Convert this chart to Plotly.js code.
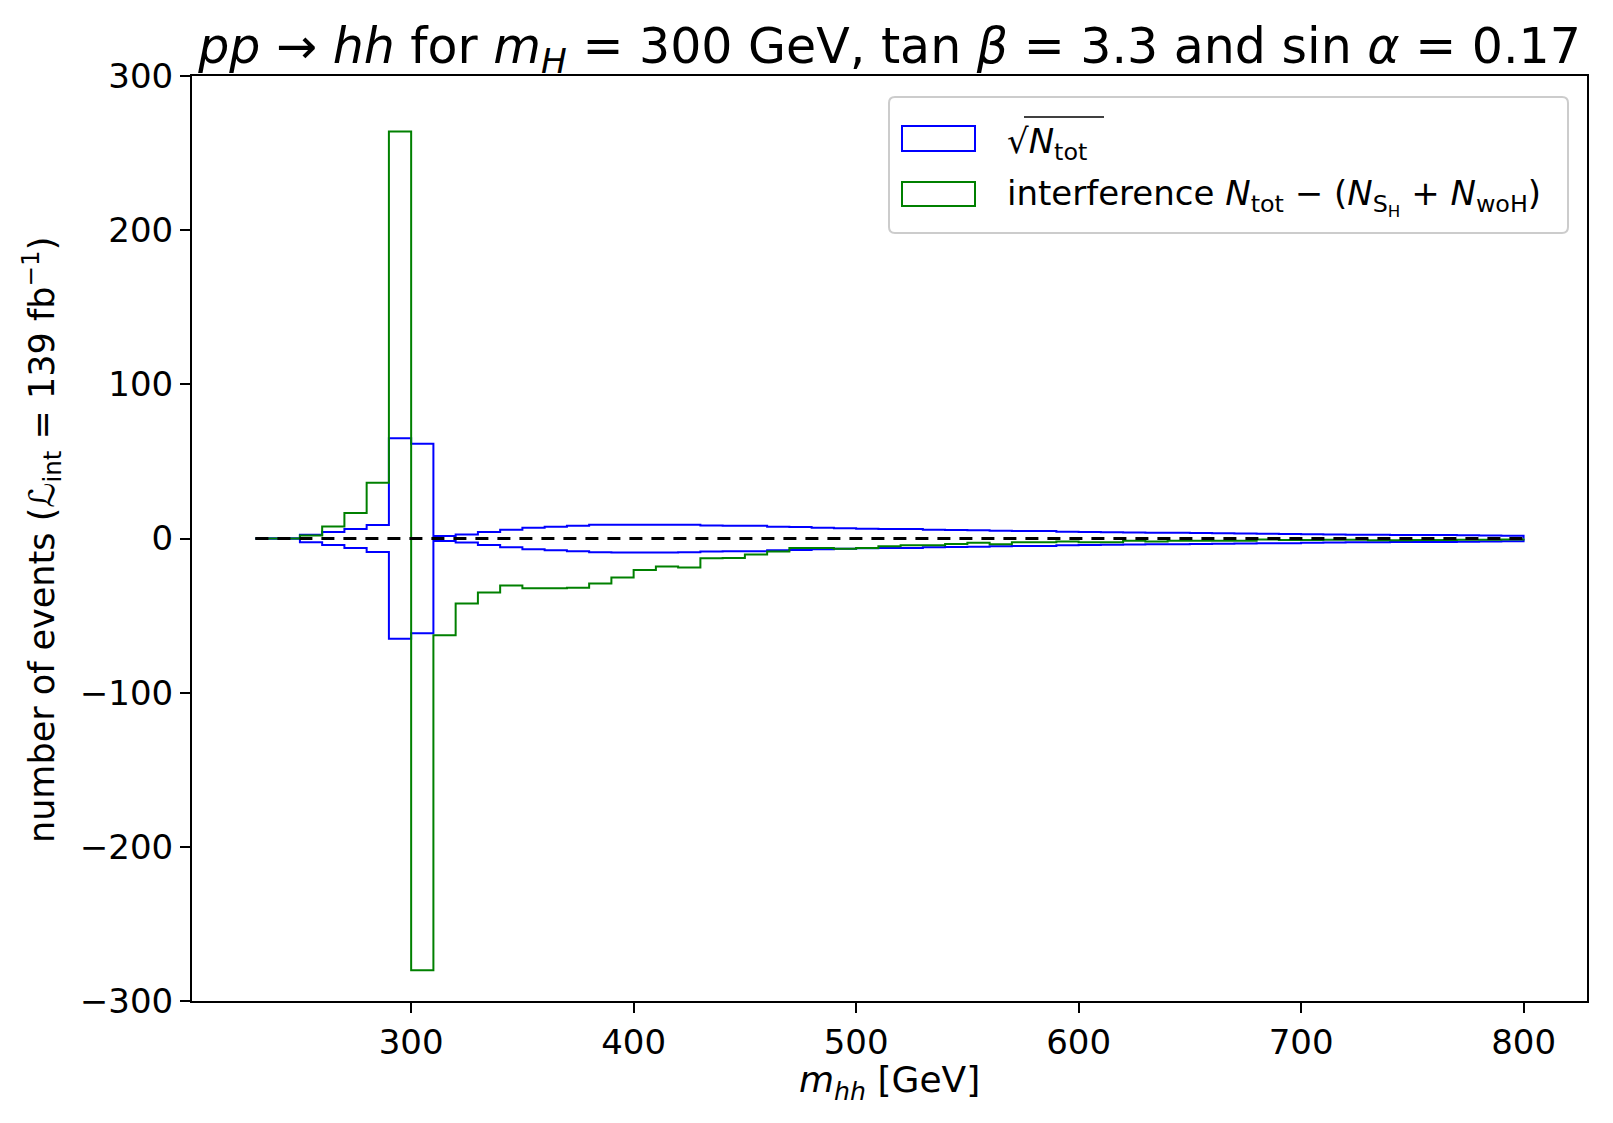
<!DOCTYPE html>
<html>
<head>
<meta charset="utf-8">
<script src="https://cdn.plot.ly/plotly-3.0.1.min.js"></script>
<style>html,body{margin:0;padding:0;background:#fff;}</style>
</head>
<body>
<div id="chart" style="width:1613px;height:1123px;"></div>
<script>
// Bin edges of m_hh [GeV]
const binEdges = [230,240,250,260,270,280,290,300,310,320,330,340,350,360,370,380,390,400,410,420,
  430,440,450,460,470,480,490,500,510,520,530,540,550,560,570,580,590,600,610,620,
  630,640,650,660,670,680,690,700,710,720,730,740,750,760,770,780,790,800];

// sqrt(N_tot) per bin
const sqrtNtot = [0,0,2.5,4.2,6.2,8.8,65.1,61.4,1.6,2.6,4.2,5.6,6.9,7.7,8.3,8.9,9.0,9.0,9.0,8.9,
  8.4,8.3,8.2,7.7,7.5,6.9,6.7,6.3,6.2,6.1,5.6,5.5,5.4,5.0,4.9,4.8,4.4,4.2,4.1,3.9,
  3.8,3.7,3.6,3.4,3.2,3.1,3.0,2.8,2.6,2.5,2.4,2.3,2.3,2.2,2.1,1.9,1.8];

// interference N_tot - (N_SH + N_woH) per bin
const interference = [0,0,2.0,7.8,16.6,36.1,264,-280,-62.8,-42.2,-35.0,-30.5,-32.2,-32.2,-32.0,-29.2,-25.3,-20.5,-18.2,-18.8,
  -12.8,-12.6,-10.4,-8.5,-6.1,-6.1,-6.7,-6.1,-5.0,-4.3,-4.3,-3.5,-2.8,-3.7,-2.4,-2.4,-1.9,-2.4,-2.4,-1.5,
  -2.0,-1.4,-1.4,-1.4,-1.4,-0.6,-1.0,-1.0,-0.8,-0.8,-1.2,-1.2,-1.0,-1.0,-0.8,-0.8,-0.6];

const xTicks = [300,400,500,600,700,800];
const yTicks = [-300,-200,-100,0,100,200,300];

// build a matplotlib-like "step" histogram outline (hv shape)
function stepOutline(edges, vals, sign) {
  const x = [edges[0]], y = [0];
  for (let i = 0; i < vals.length; i++) { x.push(edges[i]); y.push(sign * vals[i]); }
  x.push(edges[edges.length - 1]); y.push(sign * vals[vals.length - 1]);
  x.push(edges[edges.length - 1]); y.push(0);
  return {x, y};
}

const bluePos = stepOutline(binEdges, sqrtNtot, 1);
const blueNeg = stepOutline(binEdges, sqrtNtot, -1);
const greenS = stepOutline(binEdges, interference, 1);

const traces = [
  {x: bluePos.x, y: bluePos.y, mode: 'lines', line: {shape: 'hv', color: '#0000ff', width: 2}, showlegend: false, hoverinfo: 'skip'},
  {x: blueNeg.x, y: blueNeg.y, mode: 'lines', line: {shape: 'hv', color: '#0000ff', width: 2}, showlegend: false, hoverinfo: 'skip'},
  {x: greenS.x, y: greenS.y, mode: 'lines', line: {shape: 'hv', color: '#008000', width: 2}, showlegend: false, hoverinfo: 'skip'},
  {x: [binEdges[0], binEdges[binEdges.length - 1]], y: [0, 0], mode: 'lines', line: {color: '#000000', width: 3, dash: '13px,9px'}, showlegend: false, hoverinfo: 'skip'}
];

// pixel helpers for legend placement (plot area: l=192, r=1587, t=76, b=1001)
const PL = 192, PR = 1587, PT = 76, PB = 1001;
const px = v => (v - PL) / (PR - PL);
const py = v => (PB - v) / (PB - PT);

function roundRect(x0, y0, x1, y1, r) {
  const rx = r / (PR - PL), ry = r / (PB - PT);
  const X0 = px(x0), X1 = px(x1), Y0 = py(y0), Y1 = py(y1);
  return `M ${X0 + rx},${Y0} L ${X1 - rx},${Y0} Q ${X1},${Y0} ${X1},${Y0 - ry} L ${X1},${Y1 + ry} Q ${X1},${Y1} ${X1 - rx},${Y1} L ${X0 + rx},${Y1} Q ${X0},${Y1} ${X0},${Y1 + ry} L ${X0},${Y0 - ry} Q ${X0},${Y0} ${X0 + rx},${Y0} Z`;
}

const FONT = 'DejaVu Sans, Liberation Sans, sans-serif';

const layout = {
  width: 1613, height: 1123,
  margin: {l: PL, r: 1613 - PR, t: PT, b: 1123 - PB, pad: 0},
  paper_bgcolor: '#ffffff', plot_bgcolor: '#ffffff',
  font: {family: FONT, size: 34, color: '#000'},
  showlegend: false,
  title: {
    text: '<i>pp</i> → <i>hh</i> for <i>m<sub>H</sub></i> = 300 GeV, tan <i>β</i> = 3.3 and sin <i>α</i> = 0.17',
    font: {family: FONT, size: 49, color: '#000'},
    x: 0.5515, xanchor: 'center', y: 1 - 46 / 1123, yanchor: 'middle'
  },
  xaxis: {
    range: [201.5, 828.5], tickvals: xTicks, ticktext: xTicks.map(String),
    showgrid: false, zeroline: false, showline: true, mirror: true, linecolor: '#000', linewidth: 2,
    ticks: 'outside', ticklen: 10, tickwidth: 2, tickcolor: '#000',
    tickfont: {family: FONT, size: 34, color: '#000'}
  },
  yaxis: {
    range: [-300, 300], tickvals: yTicks, ticktext: yTicks.map(v => v < 0 ? '\u2212' + Math.abs(v) : String(v)),
    showgrid: false, zeroline: false, showline: true, mirror: true, linecolor: '#000', linewidth: 2,
    ticks: 'outside', ticklen: 10, tickwidth: 2, tickcolor: '#000',
    tickfont: {family: FONT, size: 34, color: '#000'}
  },
  shapes: [
    {type: 'path', xref: 'paper', yref: 'paper', path: roundRect(889, 97, 1568, 233, 6),
      line: {color: '#cccccc', width: 2}, fillcolor: 'rgba(255,255,255,0.8)', layer: 'above'},
    {type: 'rect', xref: 'paper', yref: 'paper', x0: px(902), x1: px(975), y0: py(126), y1: py(151),
      line: {color: '#0000ff', width: 2}, fillcolor: 'rgba(0,0,0,0)', layer: 'above'},
    {type: 'rect', xref: 'paper', yref: 'paper', x0: px(902), x1: px(975), y0: py(182), y1: py(206),
      line: {color: '#008000', width: 2}, fillcolor: 'rgba(0,0,0,0)', layer: 'above'},
    // overline of the square root sign
    {type: 'line', xref: 'paper', yref: 'paper', x0: px(1024), x1: px(1104), y0: py(117), y1: py(117),
      line: {color: '#000', width: 1.5}, layer: 'above'}
  ],
  annotations: [
    {xref: 'paper', yref: 'paper', x: px(1005), y: py(143), xanchor: 'left', yanchor: 'middle', showarrow: false,
      text: '√<i>N</i><sub>tot</sub>', font: {family: FONT, size: 34, color: '#000'}},
    {xref: 'paper', yref: 'paper', x: px(1005), y: py(197), xanchor: 'left', yanchor: 'middle', showarrow: false,
      text: 'interference <i>N</i><sub>tot</sub> − (<i>N</i><sub>S<sub>H</sub></sub> + <i>N</i><sub>woH</sub>)', font: {family: FONT, size: 34, color: '#000'}},
    {xref: 'paper', yref: 'paper', x: 0.5, y: py(1082), xanchor: 'center', yanchor: 'middle', showarrow: false,
      text: '<i>m<sub>hh</sub></i> [GeV]', font: {family: FONT, size: 36, color: '#000'}},
    {xref: 'paper', yref: 'paper', x: px(41), y: py(540), xanchor: 'center', yanchor: 'middle', showarrow: false, textangle: -90,
      text: 'number of events (<i>ℒ</i><sub>int</sub> = 139 fb<sup>−1</sup>)', font: {family: FONT, size: 35, color: '#000'}}
  ]
};

Plotly.newPlot('chart', traces, layout, {staticPlot: true, displayModeBar: false});
</script>
</body>
</html>
